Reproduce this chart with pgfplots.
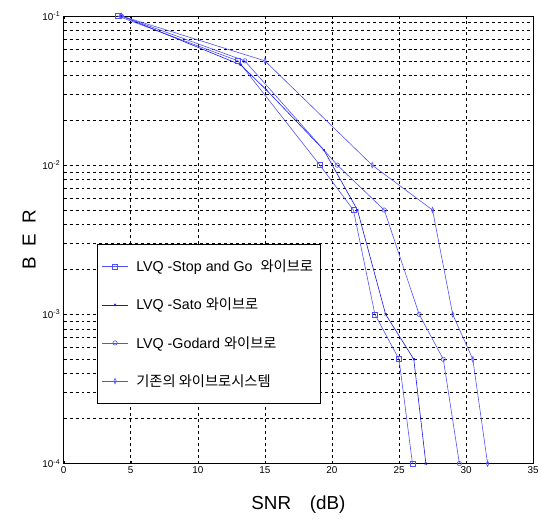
\documentclass[border=0pt]{standalone}
\usepackage{pgfplots}
\pgfplotsset{compat=1.18}
\usepackage{fontspec}
\setmainfont{Liberation Sans}
\newfontfamily\kr{Noto Sans CJK KR}
\definecolor{lb}{RGB}{80,80,255}
\definecolor{db}{RGB}{20,20,235}

\begin{document}
\begin{tikzpicture}
\begin{axis}[
scale only axis,
width=472bp, height=450bp,
ymode=log,
xmin=0, xmax=35, ymin=1e-4, ymax=1e-1,
xtick={0,5,...,35},
ytick={1e-4,1e-3,1e-2,1e-1},
yticklabels={10\textsuperscript{-4},10\textsuperscript{-3},10\textsuperscript{-2},10\textsuperscript{-1}},
/pgf/number format/assume math mode=true,
grid=both,
major grid style={black, dashed, line width=0.6pt},
minor grid style={black, dashed, line width=0.6pt},
axis line style={black, line width=0.7pt},
tick style={black},
major tick length=3bp, minor tick length=0pt,
tick label style={font=\fontsize{10}{12}\selectfont},
label style={font=\fontsize{19}{22}\selectfont},
xlabel={SNR\quad(dB)},
ylabel={B\ \ E\ \ R},
xlabel style={yshift=-15bp},
ylabel style={yshift=0bp},
clip=false,
legend image code/.code={\draw[mark repeat=2,mark phase=2,#1] plot coordinates {(0bp,0bp)(13bp,0bp)(26bp,0bp)};},
legend style={at={(0.07,0.491)}, anchor=north west, draw=black, line width=0.7pt, fill=white,
  font=\fontsize{14.4}{17}\selectfont, row sep=21bp, inner ysep=14bp, inner xsep=5bp,
  cells={anchor=west}, /tikz/every odd column/.append style={column sep=6bp}},
]
\addplot[lb, mark=square, mark size=2.5pt, line width=0.6pt] coordinates {
(4,0.1)(13,0.05)(19.1,0.01)(21.6,0.005)(23.2,0.001)(25,0.0005)(26,0.0001)};
\addlegendentry{LVQ -Stop and Go\ \ {\kr 와이브로}}
\addplot[db, mark=x, mark size=1.5pt, line width=0.6pt] coordinates {
(4.3,0.1)(13.2,0.047)(15.1,0.032)(19.4,0.0126)(21.9,0.005)(24,0.001)(26.1,0.0005)(27,0.0001)};
\addlegendentry{LVQ -Sato {\kr 와이브로}}
\addplot[lb, mark=o, mark size=2.2pt, line width=0.6pt] coordinates {
(4.3,0.1)(13.5,0.05)(20.4,0.01)(23.9,0.005)(26.5,0.001)(28.3,0.0005)(29.5,0.0001)};
\addlegendentry{LVQ -Godard {\kr 와이브로}}
\addplot[lb, mark=diamond, mark size=2.8pt, mark options={xscale=0.6}, line width=0.6pt] coordinates {
(4.3,0.1)(15,0.05)(23,0.01)(27.5,0.005)(29,0.001)(30.5,0.0005)(31.6,0.0001)};
\addlegendentry{{\kr 기존의 와이브로시스템}}
\end{axis}
\path ([shift={(-64bp,-56bp)}]current axis.south west) rectangle ([shift={(8bp,16bp)}]current axis.north east);
\end{tikzpicture}
\end{document}
